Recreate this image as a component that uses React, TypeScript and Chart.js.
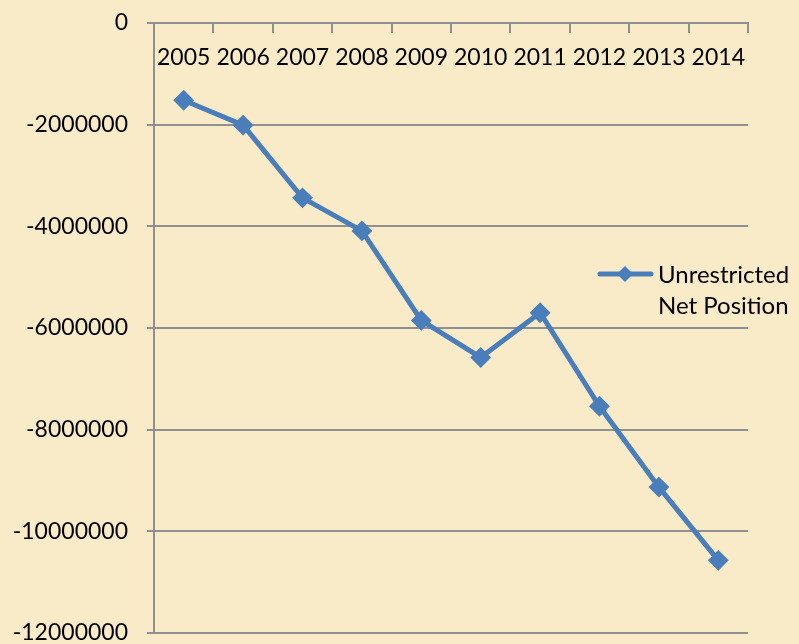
import React, { useEffect, useRef } from "react";
import { Chart, registerables } from "chart.js";

Chart.register(...registerables);

const categories = ["2005", "2006", "2007", "2008", "2009", "2010", "2011", "2012", "2013", "2014"];
const seriesLabel = ["Unrestricted", "Net Position"];
const seriesValues = [-1520000, -2010000, -3440000, -4090000, -5850000, -6580000, -5700000, -7540000, -9130000, -10570000];
const yTickValues = [0, -2000000, -4000000, -6000000, -8000000, -10000000, -12000000];

const BG = "#f9eac8";
const LINE = "#4a7ebb";
const GRID = "#909090";
const FONT = "Lato, 'Noto Sans', sans-serif";

const legendPlugin = {
  id: "customLegend",
  afterDraw(chart: any) {
    const ctx = chart.ctx;
    const ds = chart.data.datasets[0];
    ctx.save();
    ctx.strokeStyle = LINE;
    ctx.lineWidth = 5;
    ctx.lineCap = "round";
    ctx.beginPath();
    ctx.moveTo(600, 274);
    ctx.lineTo(651, 274);
    ctx.stroke();
    ctx.fillStyle = LINE;
    ctx.beginPath();
    const cx = 625, cy = 274, r = 8;
    ctx.moveTo(cx - r, cy);
    ctx.lineTo(cx, cy - r);
    ctx.lineTo(cx + r, cy);
    ctx.lineTo(cx, cy + r);
    ctx.closePath();
    ctx.fill();
    ctx.fillStyle = "#000000";
    ctx.font = `24px ${FONT}`;
    ctx.textBaseline = "middle";
    ctx.textAlign = "left";
    const lines: string[] = ds.label;
    lines.forEach((t, i) => ctx.fillText(t, 658, 275 + i * 31.5));
    ctx.restore();
  },
};

export default function App() {
  const ref = useRef<HTMLCanvasElement | null>(null);
  useEffect(() => {
    document.body.style.margin = "0";
    document.body.style.background = BG;
    const canvas = ref.current!;
    const chart = new Chart(canvas, {
      type: "line",
      data: {
        labels: categories,
        datasets: [
          {
            label: seriesLabel as any,
            data: seriesValues,
            borderColor: LINE,
            backgroundColor: LINE,
            borderWidth: 5,
            pointStyle: "rectRot",
            pointRadius: 9,
            pointBorderWidth: 2,
            pointBackgroundColor: LINE,
            pointBorderColor: LINE,
            tension: 0,
          } as any,
        ],
      },
      options: {
        responsive: false,
        animation: false,
        layout: { padding: { left: 0, right: 51, top: 23, bottom: 11 } },
        plugins: { legend: { display: false }, tooltip: { enabled: false } },
        scales: {
          x: {
            type: "category",
            position: { y: 0 } as any,
            offset: true,
            grid: {
              display: true,
              drawOnChartArea: false,
              drawTicks: true,
              tickLength: 9,
              color: GRID,
              lineWidth: 2,
              offset: true,
            },
            border: { display: true, color: GRID, width: 2 },
            ticks: {
              color: "#000000",
              font: { family: FONT, size: 23, lineHeight: 1 },
              padding: 14,
              maxRotation: 0,
              autoSkip: false,
            },
          },
          y: {
            type: "linear",
            position: "left",
            min: -12000000,
            max: 0,
            afterBuildTicks: (scale: any) => {
              scale.ticks = yTickValues.map((v) => ({ value: v }));
            },
            afterFit: (scale: any) => {
              scale.width = 154;
              scale.paddingTop = 0;
              scale.paddingBottom = 0;
            },
            grid: {
              color: GRID,
              lineWidth: 2,
              drawTicks: true,
              tickLength: 7,
            },
            border: { display: true, color: GRID, width: 2 },
            ticks: {
              color: "#000000",
              font: { family: FONT, size: 23, lineHeight: 1 },
              padding: 19,
              callback: (v: any) => String(v),
            },
          },
        },
      },
      plugins: [legendPlugin],
    });
    return () => chart.destroy();
  }, []);
  return (
    <div style={{ width: 799, height: 644, background: BG }}>
      <canvas ref={ref} width={799} height={644} style={{ display: "block" }} />
    </div>
  );
}
